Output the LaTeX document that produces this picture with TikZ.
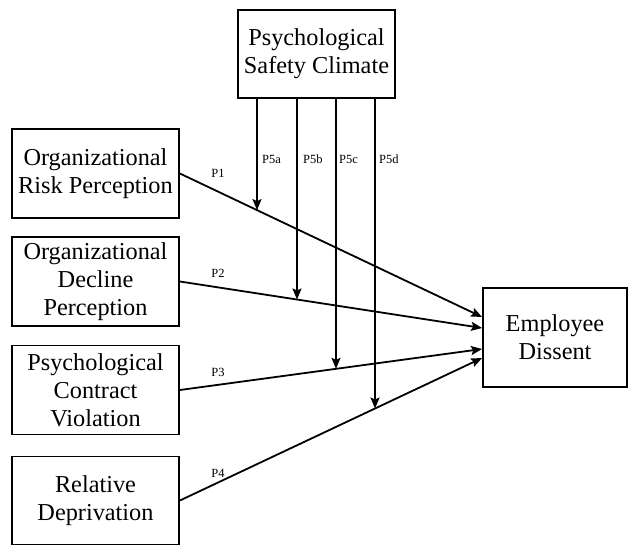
\documentclass[tikz,border=0pt]{standalone}
\usepackage{fontspec}
\setmainfont{LiberationSerif}[Extension=.ttf, UprightFont=*-Regular, BoldFont=*-Bold, ItalicFont=*-Italic]
\usetikzlibrary{arrows.meta,calc}
\tikzset{
  box/.style={draw, line width=1.8pt, align=center, inner sep=2pt,
    font=\fontsize{24.3}{27.8}\selectfont},
  lab/.style={font=\fontsize{12.5}{14}\selectfont, inner sep=0pt},
  arr/.style={line width=1.8pt, -{Stealth[length=11pt,width=9pt,inset=2pt]}},
}
\begin{document}
\begin{tikzpicture}[x=1pt,y=-1pt]
\useasboundingbox (0,0) rectangle (629,544);

% constructs
\node[box, minimum width=157pt, minimum height=88pt] (psc) at (316.5,54) {Psychological\\Safety Climate};
\node[box, minimum width=167pt, minimum height=89pt] (b1) at (95.5,173.5) {Organizational\\Risk Perception};
\node[box, minimum width=167pt, minimum height=89pt] (b2) at (95.5,281.5) {Organizational\\Decline\\Perception};
\node[box, minimum width=167pt, minimum height=89pt] (b3) at (95.5,390) {Psychological\\Contract\\Violation};
\node[box, minimum width=167pt, minimum height=88pt] (b4) at (95.5,500.5) {Relative\\Deprivation};
\node[box, minimum width=144pt, minimum height=99pt] (ed) at (555,337.5) {Employee\\Dissent};

% arrow ends on the outcome box
\coordinate (e1) at ([yshift=20.5pt]ed.west);
\coordinate (e2) at ([yshift=9.5pt]ed.west);
\coordinate (e3) at ([yshift=-11.5pt]ed.west);
\coordinate (e4) at ([yshift=-20.5pt]ed.west);
\coordinate (s1) at (b1.east);
\coordinate (s2) at (b2.east);
\coordinate (s3) at (b3.east);
\coordinate (s4) at (b4.east);

% direct paths
\draw[arr] (s1) -- (e1);
\draw[arr] (s2) -- (e2);
\draw[arr] (s3) -- (e3);
\draw[arr] (s4) -- (e4);

% moderator lines
\coordinate (m1) at ([xshift=-59.5pt]psc.south);
\coordinate (m2) at ([xshift=-19.5pt]psc.south);
\coordinate (m3) at ([xshift=19.5pt]psc.south);
\coordinate (m4) at ([xshift=58.5pt]psc.south);
\coordinate (n1) at ([yshift=-450pt]m1);
\coordinate (n2) at ([yshift=-450pt]m2);
\coordinate (n3) at ([yshift=-450pt]m3);
\coordinate (n4) at ([yshift=-450pt]m4);
\draw[arr] (m1) -- (intersection of m1--n1 and s1--e1);
\draw[arr] (m2) -- (intersection of m2--n2 and s2--e2);
\draw[arr] (m3) -- (intersection of m3--n3 and s3--e3);
\draw[arr] (m4) -- (intersection of m4--n4 and s4--e4);

% path labels
\node[lab] (p1) at (218,173) {P1};
\node[lab] (p2) at (218,273) {P2};
\node[lab] (p3) at (218,372) {P3};
\node[lab] (p4) at (218,473) {P4};
\node[lab, anchor=west] (p5a) at (262,159) {P5a};
\node[lab, anchor=west] (p5b) at (303,159) {P5b};
\node[lab, anchor=west] (p5c) at (339,159) {P5c};
\node[lab, anchor=west] (p5d) at (379,159) {P5d};
\end{tikzpicture}
\end{document}
